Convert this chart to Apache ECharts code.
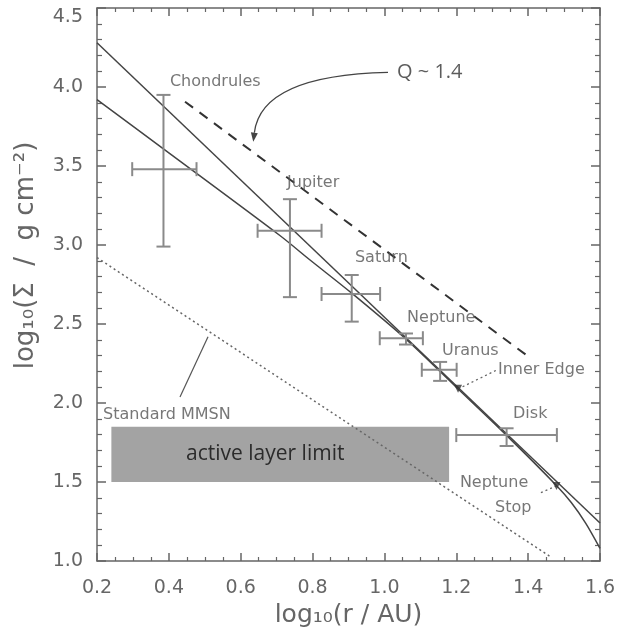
<!DOCTYPE html>
<html>
<head>
<meta charset="utf-8">
<script src="https://cdn.jsdelivr.net/npm/echarts@6/dist/echarts.min.js"></script>
<style>html,body{margin:0;padding:0;background:#fff;}#c{width:619px;height:635px;}</style>
</head>
<body>
<div id="c"></div>
<script>
// ---- data ----
const fitX = [0.2, 1.6];
const fitY = [4.28, 1.24];
const modelX = [0.2, 0.384, 0.709, 0.793, 0.909, 1.057, 1.2, 1.34, 1.48, 1.52, 1.56, 1.6];
const modelY = [3.92, 3.61, 3.06, 2.905, 2.695, 2.41, 2.10, 1.795, 1.475, 1.37, 1.24, 1.08];
const qX = [0.445, 1.397];
const qY = [3.907, 2.30];
const mmsnX = [0.2, 1.46];
const mmsnY = [2.92, 1.03];
const obsNames = ['Chondrules', 'Jupiter', 'Saturn', 'Neptune', 'Uranus', 'Disk'];
const obsX   = [0.385, 0.737, 0.909, 1.06, 1.155, 1.34];
const obsY   = [3.48, 3.09, 2.69, 2.41, 2.21, 1.797];
const obsXLo = [0.298, 0.647, 0.825, 0.987, 1.104, 1.20];
const obsXHi = [0.477, 0.825, 0.988, 1.107, 1.201, 1.48];
const obsYLo = [2.99, 2.67, 2.515, 2.37, 2.14, 1.728];
const obsYHi = [3.95, 3.29, 2.81, 2.44, 2.26, 1.84];
const edgeNames = ['Inner Edge', 'Neptune Stop'];
const edgeX = [1.205, 1.479];
const edgeY = [2.09, 1.475];
const activeX = [0.24, 1.18];
const activeY = [1.5, 1.85];
const activeText = 'active layer limit';
const xTicks = [0.2, 0.4, 0.6, 0.8, 1.0, 1.2, 1.4, 1.6];
const yTicks = [1.0, 1.5, 2.0, 2.5, 3.0, 3.5, 4.0, 4.5];
// annotation text anchors (data units)
const noteText = ['Chondrules', 'Jupiter', 'Saturn', 'Neptune', 'Uranus', 'Inner Edge', 'Disk', 'Neptune', 'Stop', 'Standard MMSN'];
const noteX = [0.403, 0.729, 0.918, 1.063, 1.160, 1.316, 1.358, 1.210, 1.308, 0.217];
const noteY = [4.032, 3.392, 2.918, 2.538, 2.329, 2.209, 1.930, 1.494, 1.335, 1.924];
const qLabel = 'Q ~ 1.4';
const qLabelX = 1.035, qLabelY = 4.095;
// curved arrow: start, control, end (data units)
const arrowStart = [1.010, 4.093];
const arrowCtrl = [0.657, 4.075];
const arrowEnd = [0.635, 3.654];
const mmsnLeadX = [0.431, 0.509];
const mmsnLeadY = [2.038, 2.42];
const innerLeadX = [1.205, 1.313];
const innerLeadY = [2.089, 2.209];
const stopLeadX = [1.479, 1.433];
const stopLeadY = [1.475, 1.430];

const zip = (xs, ys) => xs.map((x, i) => [x, ys[i]]);

const chart = echarts.init(document.getElementById('c'), null, {renderer: 'canvas'});
const frame = '#666';
const tickFont = {color: '#666', fontSize: 19, fontFamily: 'DejaVu Sans'};
function xAx(pos, show) {
  return {
    type: 'value', position: pos, min: 0.2, max: 1.6, interval: 0.2,
    axisLine: {show: true, onZero: false, lineStyle: {color: frame, width: 1.5}},
    axisTick: {show: true, inside: true, length: 8, lineStyle: {color: frame, width: 1.5}},
    minorTick: {show: true, splitNumber: 4, length: 4, lineStyle: {color: frame, width: 1.2}},
    splitLine: {show: false},
    axisLabel: show ? Object.assign({margin: 18, formatter: v => v.toFixed(1)}, tickFont) : {show: false},
    name: show ? 'log\u2081\u2080(r / AU)' : '',
    nameLocation: 'middle', nameGap: 42,
    nameTextStyle: {color: '#666', fontSize: 25, fontFamily: 'DejaVu Sans'}
  };
}
function yAx(pos, show) {
  return {
    type: 'value', position: pos, min: 1.0, max: 4.5, interval: 0.5,
    axisLine: {show: true, onZero: false, lineStyle: {color: frame, width: 1.5}},
    axisTick: {show: true, inside: true, length: 9, lineStyle: {color: frame, width: 1.5}},
    minorTick: {show: true, splitNumber: 5, length: 5, lineStyle: {color: frame, width: 1.2}},
    splitLine: {show: false},
    axisLabel: show ? Object.assign({
      margin: 14,
      formatter: v => v >= 4.5 ? '{top|' + v.toFixed(1) + '}' : v.toFixed(1),
      rich: {top: {padding: [18, 0, 0, 0], color: '#666', fontSize: 19, fontFamily: 'DejaVu Sans'}}
    }, tickFont) : {show: false},
    name: show ? 'log\u2081\u2080(\u03A3  /  g cm\u207B\u00B2)' : '',
    nameLocation: 'middle', nameGap: 58,
    nameTextStyle: {color: '#666', fontSize: 26, fontFamily: 'DejaVu Sans', padding: [0, 0, 0, 58]}
  };
}

function simpleLine(xs, ys, style, z) {
  return {type: 'line', data: zip(xs, ys), symbol: 'none', silent: true, z: z || 3,
    lineStyle: style, animation: false};
}

const noteData = noteText.map((t, i) => ({value: [noteX[i], noteY[i]], label: {formatter: t}}));

const option = {
  animation: false,
  grid: {left: 97, right: 19, top: 8, bottom: 74, containLabel: false},
  xAxis: [xAx('bottom', true), xAx('top', false)],
  yAxis: [yAx('left', true), yAx('right', false)],
  series: [
    simpleLine(mmsnX, mmsnY, {color: '#666', width: 1.5, type: [2, 3]}, 2),
    {
      type: 'line', data: [], silent: true, z: 4,
      markArea: {
        silent: true,
        itemStyle: {color: '#a3a3a3', opacity: 1},
        label: {show: true, position: 'inside', offset: [-15, 0], color: '#2b2b2b', fontSize: 21, fontFamily: 'Open Sans', formatter: activeText},
        data: [[{coord: [activeX[0], activeY[1]]}, {coord: [activeX[1], activeY[0]]}]]
      }
    },
    simpleLine(fitX, fitY, {color: '#444', width: 1.5}, 5),
    {type: 'line', data: zip(modelX, modelY), symbol: 'none', smooth: 0.3, silent: true, z: 5,
      lineStyle: {color: '#444', width: 1.5}},
    simpleLine(qX, qY, {color: '#333', width: 2, type: [10, 8]}, 5),
    simpleLine(mmsnLeadX, mmsnLeadY, {color: '#555', width: 1.2}, 5),
    simpleLine(innerLeadX, innerLeadY, {color: '#666', width: 1.3, type: [2, 3]}, 5),
    simpleLine(stopLeadX, stopLeadY, {color: '#666', width: 1.3, type: [2, 3]}, 5),
    {
      type: 'custom', z: 6, silent: true,
      data: [[arrowStart[0], arrowStart[1], arrowCtrl[0], arrowCtrl[1], arrowEnd[0], arrowEnd[1]]],
      renderItem: function (params, api) {
        const p0 = api.coord([api.value(0), api.value(1)]);
        const c = api.coord([api.value(2), api.value(3)]);
        const p1 = api.coord([api.value(4), api.value(5)]);
        const dx = p1[0] - c[0], dy = p1[1] - c[1];
        const len = Math.sqrt(dx * dx + dy * dy);
        const ux = dx / len, uy = dy / len;
        const L = 9, W = 3.5;
        const bx = p1[0] - ux * L, by = p1[1] - uy * L;
        return {type: 'group', children: [
          {type: 'bezierCurve', shape: {x1: p0[0], y1: p0[1], x2: bx, y2: by, cpx1: c[0], cpy1: c[1]},
            style: {stroke: '#444', lineWidth: 1.3, fill: null}},
          {type: 'polygon', shape: {points: [[p1[0], p1[1]], [bx - uy * W, by + ux * W], [bx + uy * W, by - ux * W]]},
            style: {fill: '#444'}}
        ]};
      }
    },
    {
      type: 'custom', z: 6, silent: true,
      data: obsX.map((x, i) => [x, obsY[i], obsXLo[i], obsXHi[i], obsYLo[i], obsYHi[i]]),
      renderItem: function (params, api) {
        const x = api.value(0), y = api.value(1);
        const l = api.coord([api.value(2), y]);
        const r = api.coord([api.value(3), y]);
        const b = api.coord([x, api.value(4)]);
        const t = api.coord([x, api.value(5)]);
        const h = 7;
        const st = {stroke: '#8a8a8a', lineWidth: 2};
        const seg = (x1, y1, x2, y2) => ({type: 'line', shape: {x1, y1, x2, y2}, style: st});
        return {type: 'group', children: [
          seg(l[0], l[1], r[0], r[1]),
          seg(l[0], l[1] - h, l[0], l[1] + h),
          seg(r[0], r[1] - h, r[0], r[1] + h),
          seg(t[0], t[1], b[0], b[1]),
          seg(t[0] - h, t[1], t[0] + h, t[1]),
          seg(b[0] - h, b[1], b[0] + h, b[1])
        ]};
      }
    },
    {
      type: 'scatter', z: 7, silent: true,
      data: zip(edgeX, edgeY),
      symbol: 'triangle', symbolRotate: 180, symbolSize: 8,
      itemStyle: {color: '#333'}
    },
    {
      type: 'scatter', z: 8, silent: true, symbolSize: 0,
      data: noteData,
      label: {show: true, position: 'right', distance: 0, color: '#555', fontSize: 16, fontFamily: 'DejaVu Sans'}
    },
    {
      type: 'scatter', z: 8, silent: true, symbolSize: 0,
      data: [{value: [qLabelX, qLabelY], label: {formatter: qLabel}}],
      label: {show: true, position: 'right', distance: 0, color: '#333', fontSize: 20, fontFamily: 'Open Sans'}
    }
  ]
};
chart.setOption(option);
</script>
</body>
</html>
